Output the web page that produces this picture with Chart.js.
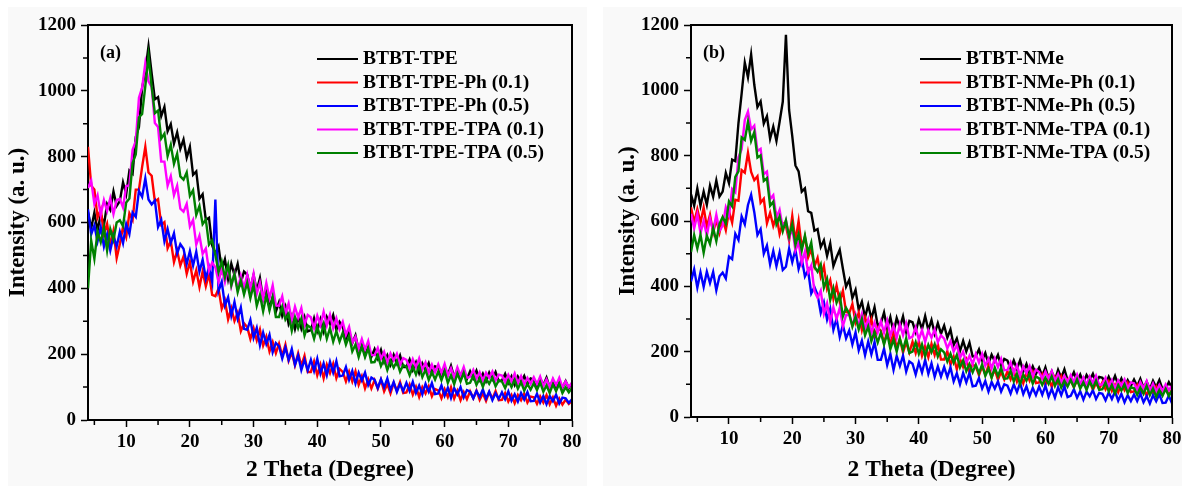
<!DOCTYPE html>
<html>
<head>
<meta charset="utf-8">
<title>XRD patterns</title>
<script src="https://cdn.jsdelivr.net/npm/chart.js@4.4.1/dist/chart.umd.min.js"></script>
<style>
  html, body { margin: 0; padding: 0; background: #fff; overflow: hidden; }
  .panel { position: absolute; top: 7px; height: 479px; background: #f9f9f9; }
  canvas { position: absolute; top: 0; }
</style>
</head>
<body>
<div class="panel" style="left:8px;width:579px"></div>
<div class="panel" style="left:603px;width:579px"></div>
<canvas id="chartA" width="590" height="486" style="left:0"></canvas>
<canvas id="chartB" width="592" height="486" style="left:590px"></canvas>
<script>
// 2 theta scan grid: 4 to 80 degrees, 0.5 degree step
const twoTheta = [];
for (let t = 4; t <= 80; t += 0.5) twoTheta.push(t);

const tpeLabels = ['BTBT-TPE', 'BTBT-TPE-Ph (0.1)', 'BTBT-TPE-Ph (0.5)', 'BTBT-TPE-TPA (0.1)', 'BTBT-TPE-TPA (0.5)'];
const nmeLabels = ['BTBT-NMe', 'BTBT-NMe-Ph (0.1)', 'BTBT-NMe-Ph (0.5)', 'BTBT-NMe-TPA (0.1)', 'BTBT-NMe-TPA (0.5)'];

// panel (a) intensities
const tpe = [
  632,582,630,575,625,592,656,638,694,650,
  665,722,686,758,748,860,890,1009,1060,1135,
  1052,974,981,923,951,877,899,840,874,824,
  852,797,830,745,755,672,686,608,614,530,
  505,527,456,488,428,475,440,474,418,451,
  442,399,441,393,431,367,399,340,374,329,
  358,316,344,292,317,276,313,278,312,269,
  273,309,271,306,269,313,292,319,274,298,
  283,247,270,233,257,212,235,196,222,192,
  215,187,213,176,197,168,198,172,196,161,
  161,184,152,175,143,172,152,173,142,163,
  159,134,162,137,165,130,154,123,148,125,
  148,127,150,122,141,118,144,124,146,118,
  120,140,113,133,107,132,116,134,108,126,
  123,103,126,106,129,100,121,95,116,98,
  118,97,112
];
const tpePh01 = [
  830,712,700,615,640,566,596,530,575,492,
  535,587,556,628,608,700,700,769,830,752,
  742,664,671,593,601,522,544,480,514,469,
  497,444,480,420,455,404,451,406,444,380,
  376,399,338,363,306,340,301,326,270,294,
  282,246,279,242,275,226,253,208,237,203,
  232,195,229,180,206,166,203,165,195,146,
  146,178,136,168,127,168,142,171,127,155,
  146,117,147,117,148,107,133,96,124,96,
  121,95,122,87,109,81,113,89,115,82,
  84,108,77,101,70,100,81,103,72,94,
  90,66,94,70,99,65,89,60,85,63,
  87,66,89,61,81,58,85,65,88,60,
  61,82,56,76,51,76,60,80,53,71,
  69,49,72,53,76,48,69,43,65,47,
  62,49,58
];
const tpePh05 = [
  640,564,591,543,586,527,564,515,559,527,
  572,537,595,565,630,617,696,678,734,670,
  655,667,586,608,543,580,538,567,506,534,
  520,474,513,469,511,451,487,430,464,419,
  670,392,420,348,373,317,359,308,342,277,
  274,304,250,280,227,266,231,259,206,234,
  224,187,220,183,216,168,196,152,183,151,
  183,149,186,141,172,136,177,144,179,133,
  135,161,122,149,111,144,120,144,106,129,
  122,97,124,99,126,91,115,85,110,88,
  113,88,116,82,105,78,110,86,112,79,
  81,105,74,98,67,97,78,100,69,91,
  86,66,88,70,93,65,86,60,81,64,
  84,63,87,59,78,56,82,62,85,57,
  58,80,53,73,48,73,57,77,50,68,
  66,52,63
];
const tpeTpa01 = [
  705,727,656,683,623,668,635,674,626,668,
  672,646,711,713,821,847,979,1010,1084,1029,
  1012,902,890,785,785,712,741,683,712,642,
  633,657,588,608,533,560,505,521,453,478,
  464,419,461,419,464,407,447,396,438,401,
  442,399,444,383,417,368,416,370,409,348,
  347,376,323,354,303,344,311,340,289,319,
  312,279,317,288,329,287,320,278,309,275,
  298,259,283,235,253,215,246,214,240,197,
  197,219,186,207,174,202,181,201,168,188,
  183,158,185,160,187,152,175,144,168,145,
  169,143,170,135,157,129,160,135,161,128,
  131,152,125,145,119,144,128,147,120,138,
  135,115,137,117,141,112,133,107,128,110,
  130,109,132,103,123,100,126,106,128,100,
  117,100,113
];
const tpeTpa05 = [
  400,545,490,572,540,585,515,580,548,600,
  607,589,661,673,781,807,919,930,1014,1105,
  1012,932,940,855,870,802,836,778,809,740,
  730,752,681,698,623,650,595,609,533,546,
  502,449,481,433,471,409,444,388,424,381,
  417,370,410,347,380,330,378,333,373,313,
  313,344,305,322,271,312,279,308,257,287,
  280,247,283,251,290,247,279,238,270,238,
  265,229,255,208,229,191,223,191,218,175,
  176,197,164,185,152,180,159,179,147,167,
  162,136,163,138,165,130,153,122,146,123,
  147,121,148,113,136,109,141,117,143,110,
  113,134,107,127,101,126,110,129,102,120,
  117,97,120,100,122,95,115,89,110,92,
  112,91,114,86,105,82,108,88,110,82,
  99,84,97
];

// panel (b) intensities
const nme = [
  682,647,700,647,690,650,708,674,724,675,
  690,747,716,788,783,900,990,1085,1040,1110,
  1017,949,966,898,921,852,889,845,904,965,
  1170,940,860,770,752,690,700,630,625,570,
  575,520,541,493,531,462,489,512,454,399,
  420,364,389,328,353,305,343,301,336,280,
  287,320,271,306,258,303,274,308,261,294,
  290,260,299,269,309,266,297,255,287,255,
  280,243,268,220,240,202,233,201,228,185,
  186,207,174,196,163,191,170,190,157,178,
  173,147,173,147,174,139,162,131,155,132,
  151,125,152,117,139,112,144,120,146,113,
  116,137,110,130,104,129,113,132,105,123,
  120,100,123,102,126,98,118,92,113,95,
  115,94,117,89,108,85,111,91,113,85,
  86,107,90
];
const nmePh01 = [
  642,596,636,595,641,582,619,565,604,564,
  607,572,630,595,665,662,756,748,809,750,
  725,737,656,668,593,625,585,617,560,594,
  584,540,615,538,600,519,551,488,514,461,
  487,430,462,393,419,362,403,353,387,322,
  318,346,290,319,266,305,271,299,246,274,
  264,227,260,224,258,211,240,197,229,198,
  230,196,232,187,218,183,224,190,223,176,
  176,201,160,185,146,178,153,176,138,161,
  154,128,155,130,157,122,145,114,138,115,
  140,115,142,108,131,103,135,111,137,104,
  106,130,99,123,92,122,103,125,94,116,
  111,91,113,94,117,89,109,83,104,86,
  106,85,108,80,99,76,102,82,104,76,
  78,98,71,91,65,90,74,93,66,84,
  87,68,83
];
const nmePh05 = [
  415,452,396,443,398,445,410,444,388,431,
  442,424,491,483,561,542,614,590,649,680,
  627,557,575,500,525,467,508,462,504,450,
  460,515,474,513,453,485,430,449,378,398,
  374,319,351,298,331,267,301,245,282,241,
  265,222,259,204,234,189,231,192,229,175,
  175,209,159,193,144,187,156,188,139,170,
  163,130,167,136,175,132,164,123,155,124,
  153,122,152,109,134,100,135,106,135,94,
  96,119,87,110,78,107,87,109,78,100,
  96,72,100,76,104,70,94,64,89,67,
  93,68,96,62,86,59,91,67,94,61,
  65,85,59,79,53,78,63,82,55,74,
  71,51,75,55,78,50,71,45,67,49,
  69,49,72,45,64,41,67,48,70,43,
  44,65,42
];
const nmeTpa01 = [
  622,577,620,563,600,555,608,570,619,570,
  585,642,616,698,688,795,820,909,935,880,
  892,814,821,743,751,667,679,610,634,579,
  602,547,580,510,535,472,506,443,464,385,
  365,387,316,348,290,336,300,334,278,312,
  313,279,314,279,315,269,299,257,289,259,
  293,259,295,249,279,243,284,251,286,241,
  246,274,237,266,230,265,243,268,229,250,
  240,210,232,200,221,181,200,166,187,162,
  193,167,193,157,178,149,179,153,178,143,
  144,167,135,158,126,155,135,156,124,145,
  138,117,139,117,140,110,131,105,126,107,
  128,107,130,101,121,98,124,104,126,98,
  100,120,93,113,87,112,96,115,88,106,
  103,83,107,87,110,81,102,77,98,80,
  100,82,96
];
const nmeTpa05 = [
  505,557,516,558,503,555,530,579,538,591,
  612,592,660,645,735,752,856,848,904,845,
  872,794,801,723,731,647,659,590,614,569,
  602,552,590,527,560,510,556,503,534,460,
  445,467,396,423,358,395,350,374,308,334,
  317,277,307,268,300,250,277,232,261,228,
  258,222,256,208,237,200,240,206,241,196,
  200,229,193,222,186,221,198,223,185,207,
  198,170,194,166,190,152,173,140,162,137,
  160,134,161,126,148,120,151,126,151,117,
  118,141,109,132,100,130,111,133,102,124,
  118,98,120,101,124,95,116,90,111,93,
  113,92,115,87,106,83,109,89,111,83,
  85,105,78,98,72,97,81,100,73,91,
  88,68,90,71,95,67,87,62,83,65,
  86,64,82
];

// axis ticks
const xMajor = [10, 20, 30, 40, 50, 60, 70, 80];
const xMinor = [5, 15, 25, 35, 45, 55, 65, 75];
const yMajor = [0, 200, 400, 600, 800, 1000, 1200];
const yMinor = [100, 300, 500, 700, 900, 1100];

const seriesColors = ['#000000', '#ff0000', '#0000ff', '#ff00ff', '#008000'];
const serif = "'Liberation Serif', 'Times New Roman', serif";

Chart.defaults.font.family = serif;
Chart.defaults.color = '#000';

// frame, minor ticks, panel tag and the in-plot legend
const panelDecor = {
    id: 'panelDecor',
    afterDraw(chart, args, opts) {
        const ctx = chart.ctx;
        const a = chart.chartArea;
        const x = chart.scales.x;
        const y = chart.scales.y;
        ctx.save();
        ctx.strokeStyle = '#000';
        ctx.lineWidth = 2;
        ctx.beginPath();
        ctx.moveTo(a.left, a.top);
        ctx.lineTo(a.right, a.top);
        ctx.lineTo(a.right, a.bottom);
        ctx.stroke();

        ctx.lineWidth = 1.5;
        ctx.beginPath();
        xMinor.forEach(v => {
            const px = x.getPixelForValue(v);
            ctx.moveTo(px, a.bottom);
            ctx.lineTo(px, a.bottom + 5);
        });
        yMinor.forEach(v => {
            const py = y.getPixelForValue(v);
            ctx.moveTo(a.left - 5, py);
            ctx.lineTo(a.left, py);
        });
        ctx.stroke();

        ctx.fillStyle = '#000';
        ctx.textBaseline = 'middle';
        ctx.font = 'bold 18px ' + serif;
        ctx.fillText(opts.tag, a.left + 12, 53);

        ctx.font = 'bold 19.5px ' + serif;
        chart.data.datasets.forEach((ds, i) => {
            const ly = 59 + i * 23.5;
            ctx.strokeStyle = ds.borderColor;
            ctx.lineWidth = 2;
            ctx.beginPath();
            ctx.moveTo(a.left + 229, ly);
            ctx.lineTo(a.left + 270, ly);
            ctx.stroke();
            ctx.fillText(ds.label, a.left + 275, ly);
        });
        ctx.restore();
    }
};

function buildPanel(canvasId, labels, series, tag, box) {
    const datasets = series.map((vals, i) => ({
        label: labels[i],
        data: vals.map((v, k) => ({ x: twoTheta[k], y: v })),
        borderColor: seriesColors[i],
        borderWidth: 2.4,
        borderJoinStyle: 'miter',
        pointRadius: 0,
        tension: 0,
        order: series.length - i
    }));

    const tickGrid = {
        display: true,
        drawOnChartArea: false,
        drawTicks: true,
        tickLength: 7,
        tickWidth: 1.5,
        tickColor: '#000'
    };

    return new Chart(document.getElementById(canvasId), {
        type: 'line',
        data: { datasets: datasets },
        options: {
            responsive: false,
            animation: false,
            devicePixelRatio: 1,
            parsing: false,
            layout: { padding: { left: 0, top: 25, right: box.right, bottom: 0 } },
            plugins: {
                legend: { display: false },
                tooltip: { enabled: false },
                panelDecor: { tag: tag }
            },
            scales: {
                x: {
                    type: 'linear',
                    min: 4,
                    max: 80,
                    afterBuildTicks: s => { s.ticks = xMajor.map(v => ({ value: v })); },
                    afterFit: s => { s.height = box.bottom; s.paddingLeft = 0; s.paddingRight = 0; },
                    ticks: {
                        autoSkip: false,
                        maxRotation: 0,
                        padding: 4,
                        font: { size: 19, weight: 'bold' },
                        callback: v => String(v)
                    },
                    grid: tickGrid,
                    border: { display: true, color: '#000', width: 2 },
                    title: {
                        display: true,
                        text: '2 Theta (Degree)',
                        font: { size: 23.5, weight: 'bold' },
                        padding: { top: 0, bottom: 2 }
                    }
                },
                y: {
                    type: 'linear',
                    min: 0,
                    max: 1200,
                    afterBuildTicks: s => { s.ticks = yMajor.map(v => ({ value: v })); },
                    afterFit: s => { s.width = box.left; s.paddingTop = 0; s.paddingBottom = 0; },
                    ticks: {
                        padding: 5,
                        font: { size: 19, weight: 'bold' },
                        callback: v => String(v)
                    },
                    grid: tickGrid,
                    border: { display: true, color: '#000', width: 2 },
                    title: {
                        display: true,
                        text: 'Intensity (a. u.)',
                        font: { size: 23, weight: 'bold' },
                        padding: { top: box.titleGap, bottom: 0 }
                    }
                }
            }
        },
        plugins: [panelDecor]
    });
}

buildPanel('chartA', tpeLabels, [tpe, tpePh01, tpePh05, tpeTpa01, tpeTpa05], '(a)',
    { left: 88, right: 18, bottom: 66, titleGap: 4 });
buildPanel('chartB', nmeLabels, [nme, nmePh01, nmePh05, nmeTpa01, nmeTpa05], '(b)',
    { left: 101, right: 10, bottom: 69, titleGap: 24 });
</script>
</body>
</html>
